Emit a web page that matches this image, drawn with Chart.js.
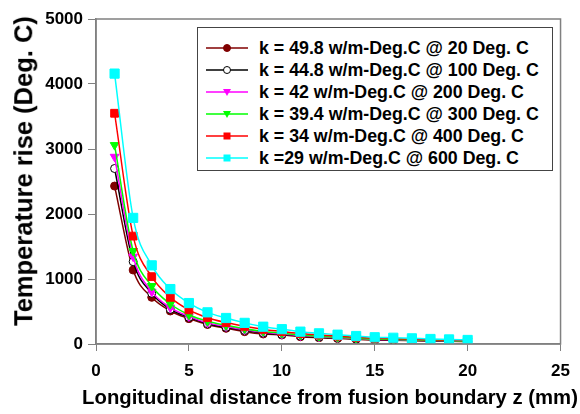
<!DOCTYPE html>
<html>
<head>
<meta charset="utf-8">
<script src="https://cdn.jsdelivr.net/npm/chart.js@4"></script>
<style>
  body { margin: 0; background: #fff; }
  #wrap { position: relative; width: 580px; height: 414px; overflow: hidden; }
  #legend {
    position: absolute; left: 197px; top: 27px; width: 356px; height: 144px;
    border: 1px solid #444; background: #fff; box-sizing: border-box;
    font: bold 17.8px "Liberation Sans", Arial, sans-serif; color: #000;
    padding-top: 9px;
  }
  .row { height: 22px; display: flex; align-items: center; white-space: nowrap; }
  .row svg { margin-left: 8px; margin-right: 11px; flex: none; }
  .title {
    position: absolute; white-space: nowrap; color: #000;
    font-family: "Liberation Sans", Arial, sans-serif; font-weight: bold;
  }
  #xTitle { left: 330px; top: 387px; font-size: 20.3px; line-height: 21px; transform: translateX(-50%); }
  #yTitle { left: 24px; top: 171px; font-size: 25.5px; line-height: 25.5px; transform: translate(-50%, -50%) rotate(-90deg); }
</style>
</head>
<body>
<div id="wrap">
  <canvas id="chart" width="580" height="414"></canvas>
  <div id="legend"></div>
  <div class="title" id="xTitle">Longitudinal distance from fusion boundary z (mm)</div>
  <div class="title" id="yTitle">Temperature rise (Deg. C)</div>
</div>
<script>
const zValues = [1, 2, 3, 4, 5, 6, 7, 8, 9, 10, 11, 12, 13, 14, 15, 16, 17, 18, 19, 20];

const seriesLabels = [
  "k = 49.8 w/m-Deg.C @ 20 Deg. C",
  "k = 44.8 w/m-Deg.C @ 100 Deg. C",
  "k = 42 w/m-Deg.C @ 200 Deg. C",
  "k = 39.4 w/m-Deg.C @ 300 Deg. C",
  "k = 34 w/m-Deg.C @ 400 Deg. C",
  "k =29 w/m-Deg.C @ 600 Deg. C"
];

const k498 = [2430, 1138, 718, 508, 390, 300, 241, 190, 154, 138, 112, 97, 85, 72, 61, 57, 51, 45, 41, 36];
const k448 = [2700, 1267, 780, 533, 410, 312, 256, 208, 170, 147, 122, 105, 92, 79, 67, 62, 56, 49, 45, 40];
const k42  = [2880, 1343, 805, 560, 425, 325, 270, 220, 180, 155, 129, 111, 97, 83, 71, 66, 59, 52, 47, 42];
const k394 = [3060, 1431, 892, 615, 450, 350, 287, 235, 193, 167, 138, 119, 104, 89, 76, 70, 63, 56, 51, 45];
const k34  = [3550, 1660, 1036, 718, 525, 405, 330, 272, 224, 192, 160, 138, 121, 104, 88, 81, 73, 65, 59, 52];
const k29  = [4160, 1940, 1210, 845, 630, 487, 400, 325, 266, 228, 190, 164, 143, 123, 104, 96, 87, 77, 70, 62];

const xTicks = [0, 5, 10, 15, 20, 25];
const yTicks = [0, 1000, 2000, 3000, 4000, 5000];

const FONT = "'Liberation Sans', Arial, sans-serif";
const AXIS = "#808080";

// marker style per series
const styles = [
  { line: "#800000", fill: "#800000", stroke: "#800000", shape: "circle", r: 4, rot: 0 },
  { line: "#000000", fill: "#ffffff", stroke: "#000000", shape: "circle", r: 4, rot: 0 },
  { line: "#ff00ff", fill: "#ff00ff", stroke: "#ff00ff", shape: "triangle", r: 5, rot: 180 },
  { line: "#00ff00", fill: "#00ff00", stroke: "#00ff00", shape: "triangle", r: 5, rot: 180 },
  { line: "#ff0000", fill: "#ff0000", stroke: "#ff0000", shape: "rect", r: 5.5, rot: 0 },
  { line: "#00ffff", fill: "#00ffff", stroke: "#00ffff", shape: "rect", r: 6.5, rot: 0 }
];

const values = [k498, k448, k42, k394, k34, k29];

const datasets = values.map((vals, i) => ({
  label: seriesLabels[i],
  data: vals.map((v, j) => ({ x: zValues[j], y: v })),
  borderColor: styles[i].line,
  backgroundColor: styles[i].fill,
  pointBorderColor: styles[i].stroke,
  pointBackgroundColor: styles[i].fill,
  pointStyle: styles[i].shape,
  pointRadius: styles[i].r,
  pointRotation: styles[i].rot,
  pointBorderWidth: 1,
  borderWidth: 1.5,
  cubicInterpolationMode: "monotone",
  order: values.length - i
}));

const frame = {
  id: "frame",
  afterDraw(c) {
    const a = c.chartArea, ctx = c.ctx;
    ctx.save();
    ctx.strokeStyle = AXIS;
    ctx.lineWidth = 1.5;
    ctx.strokeRect(a.left, a.top, a.right - a.left, a.bottom - a.top);
    ctx.restore();
  }
};

new Chart(document.getElementById("chart").getContext("2d"), {
  type: "line",
  data: { datasets },
  options: {
    responsive: false,
    animation: false,
    layout: { padding: { top: 19, right: 19, left: 0, bottom: 0 } },
    plugins: { legend: { display: false }, tooltip: { enabled: false } },
    scales: {
      x: {
        type: "linear", min: 0, max: 25,
        afterBuildTicks: s => { s.ticks = xTicks.map(v => ({ value: v })); },
        afterFit: s => { s.height = 70; },
        grid: { drawOnChartArea: false, tickLength: 7, tickColor: AXIS },
        border: { color: AXIS, width: 1.5 },
        ticks: { color: "#000", padding: 10, maxRotation: 0, callback: v => String(v),
                 font: { family: FONT, size: 17, weight: "bold" } }
      },
      y: {
        type: "linear", min: 0, max: 5000,
        afterBuildTicks: s => { s.ticks = yTicks.map(v => ({ value: v })); },
        afterFit: s => { s.width = 96; },
        grid: { drawOnChartArea: false, tickLength: 8, tickColor: AXIS },
        border: { color: AXIS, width: 1.5 },
        ticks: { color: "#000", padding: 5, callback: v => String(v),
                 font: { family: FONT, size: 17, weight: "bold" } }
      }
    }
  },
  plugins: [frame]
});

// legend box with line + marker samples
function markerSvg(st) {
  let m = "";
  if (st.shape === "circle") {
    m = `<circle cx="21" cy="7" r="3.5" fill="${st.fill}" stroke="${st.stroke}" stroke-width="1"/>`;
  } else if (st.shape === "rect") {
    m = `<rect x="17.5" y="3.5" width="7" height="7" fill="${st.fill}"/>`;
  } else {
    m = `<polygon points="17,4 25,4 21,11" fill="${st.fill}"/>`;
  }
  return `<svg width="42" height="14"><line x1="0" y1="7" x2="42" y2="7" stroke="${st.line}" stroke-width="1.5"/>${m}</svg>`;
}

const legend = document.getElementById("legend");
seriesLabels.forEach((label, i) => {
  const row = document.createElement("div");
  row.className = "row";
  row.innerHTML = markerSvg(styles[i]) + `<span>${label}</span>`;
  legend.appendChild(row);
});
</script>
</body>
</html>
